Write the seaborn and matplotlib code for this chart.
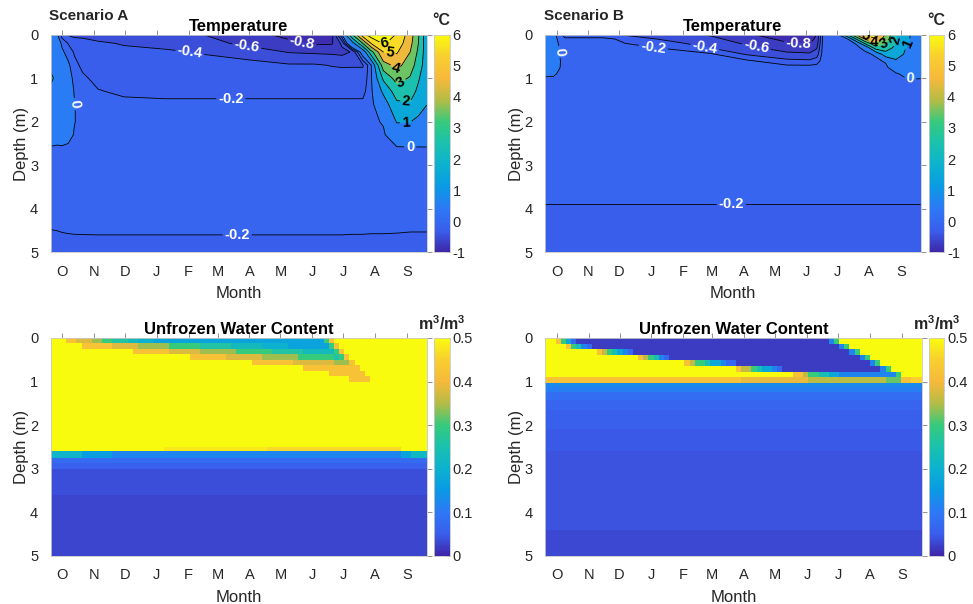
"""Ground temperature and unfrozen water content for two model scenarios."""

import matplotlib

matplotlib.use("Agg")

import matplotlib.pyplot as plt
import numpy as np
import seaborn as sns
from matplotlib.cm import ScalarMappable
from matplotlib.colors import Normalize

MONTH_LABELS = ["O", "N", "D", "J", "F", "M", "A", "M", "J", "J", "A", "S"]
MONTH_START_DAYS = [0, 31, 61, 92, 123, 151, 182, 212, 243, 273, 304, 335]  # days after 1 Oct
DAY_LIMITS = (-11, 354)
DAY_EDGES = np.arange(-11, 355, 5)  # 5-day model output steps

TEMP_FILL_LEVELS = [-1, -0.8, -0.6, -0.4, -0.2, 0, 1, 2, 3, 4, 5, 6, 7]
TEMP_COLD_LEVELS = [-0.8, -0.6, -0.4, -0.2, 0]
TEMP_WARM_LEVELS = [1, 2, 3, 4, 5, 6]

# Scenario A temperature (degC): one profile per day, top to bottom
TEMP_A_DEPTHS = [0, 0.2, 0.4, 0.7, 1.0, 1.3, 1.6, 2.0, 2.3, 2.6, 3.0, 4.4, 4.8, 5.0]
TEMP_A_DAYS = [-11, -5, 0, 6, 12, 20, 35, 60, 100, 134, 180, 220, 245, 262,
               272, 282, 292, 300, 312, 325, 338, 346, 354]
TEMP_A_PROFILES = [
    [0.5, 0.45, 0.4, 0.45, 1.5, 0.35, 0.3, 0.25, 0.15, -0.02, -0.1, -0.195, -0.22, -0.24],
    [0.05, 0.2, 0.3, 0.35, 0.4, 0.35, 0.3, 0.25, 0.15, -0.04, -0.1, -0.193, -0.22, -0.24],
    [-0.3, -0.05, 0.05, 0.2, 0.3, 0.3, 0.28, 0.22, 0.15, -0.03, -0.1, -0.19, -0.218, -0.24],
    [-0.42, -0.21, -0.1, 0.05, 0.15, 0.2, 0.2, 0.15, 0.1, -0.05, -0.1, -0.188, -0.216, -0.24],
    [-0.45, -0.3, -0.22, -0.15, -0.08, -0.02, 0.01, 0.01, -0.02, -0.08, -0.1, -0.187, -0.215, -0.24],
    [-0.42, -0.37, -0.3, -0.24, -0.17, -0.12, -0.09, -0.08, -0.08, -0.09, -0.1, -0.186, -0.215, -0.24],
    [-0.46, -0.38, -0.34, -0.29, -0.25, -0.19, -0.15, -0.12, -0.11, -0.1, -0.1, -0.185, -0.215, -0.24],
    [-0.5, -0.41, -0.37, -0.32, -0.28, -0.23, -0.16, -0.13, -0.12, -0.11, -0.1, -0.185, -0.215, -0.24],
    [-0.57, -0.46, -0.37, -0.32, -0.28, -0.24, -0.17, -0.13, -0.12, -0.11, -0.1, -0.185, -0.215, -0.24],
    [-0.59, -0.5, -0.41, -0.34, -0.29, -0.24, -0.17, -0.13, -0.12, -0.11, -0.1, -0.185, -0.215, -0.24],
    [-0.72, -0.66, -0.47, -0.35, -0.3, -0.24, -0.17, -0.13, -0.12, -0.11, -0.1, -0.185, -0.215, -0.24],
    [-0.86, -0.75, -0.61, -0.38, -0.31, -0.24, -0.17, -0.13, -0.12, -0.11, -0.1, -0.185, -0.215, -0.24],
    [-0.92, -0.83, -0.63, -0.38, -0.31, -0.24, -0.17, -0.13, -0.12, -0.11, -0.1, -0.185, -0.215, -0.24],
    [-0.88, -0.82, -0.64, -0.41, -0.31, -0.24, -0.17, -0.13, -0.12, -0.11, -0.1, -0.185, -0.215, -0.24],
    [0.02, -0.55, -0.66, -0.42, -0.31, -0.24, -0.17, -0.13, -0.12, -0.11, -0.1, -0.185, -0.215, -0.24],
    [3.0, 0.6, -0.58, -0.42, -0.3, -0.24, -0.17, -0.13, -0.12, -0.11, -0.1, -0.186, -0.216, -0.24],
    [5.6, 3.0, 0.2, -0.42, -0.3, -0.24, -0.17, -0.13, -0.12, -0.11, -0.1, -0.186, -0.216, -0.24],
    [6.5, 5.0, 2.6, -0.05, -0.1, -0.12, -0.13, -0.12, -0.11, -0.1, -0.1, -0.187, -0.217, -0.24],
    [6.8, 6.1, 5.0, 3.6, 2.2, 1.2, 0.5, 0.05, -0.08, -0.1, -0.1, -0.187, -0.217, -0.24],
    [5.9, 5.6, 5.1, 4.3, 3.4, 2.5, 1.8, 1.05, 0.5, -0.05, -0.1, -0.188, -0.218, -0.24],
    [4.5, 4.3, 4.0, 3.5, 2.9, 2.4, 1.9, 1.02, 0.5, -0.03, -0.1, -0.19, -0.22, -0.24],
    [3.1, 3.0, 2.8, 2.5, 2.1, 1.8, 1.4, 0.8, 0.4, -0.03, -0.1, -0.19, -0.22, -0.24],
    [1.3, 1.4, 1.45, 1.45, 1.35, 1.2, 1.02, 0.6, 0.3, -0.02, -0.1, -0.19, -0.22, -0.24],
]

# Scenario B temperature (degC)
TEMP_B_DEPTHS = [0, 0.1, 0.2, 0.3, 0.45, 0.6, 0.75, 0.9, 1.05, 1.3, 2.0, 3.8, 4.0, 5.0]
TEMP_B_DAYS = [-11, -3, 3, 8, 45, 94, 150, 185, 224, 246, 253, 259, 274,
               283, 291, 300, 310, 320, 330, 340, 348, 354]
TEMP_B_PROFILES = [
    [0.4, 0.4, 0.4, 0.4, 0.4, 0.35, 0.25, 0.05, -0.08, -0.1, -0.1, -0.19, -0.21, -0.25],
    [0.1, 0.15, 0.2, 0.25, 0.3, 0.3, 0.25, 0.05, -0.08, -0.1, -0.1, -0.19, -0.21, -0.25],
    [-0.15, -0.1, -0.06, -0.03, -0.01, 0.02, 0.01, -0.05, -0.09, -0.1, -0.1, -0.19, -0.21, -0.25],
    [-0.25, -0.18, -0.12, -0.1, -0.1, -0.1, -0.1, -0.1, -0.1, -0.1, -0.1, -0.19, -0.21, -0.25],
    [-0.35, -0.14, -0.12, -0.1, -0.1, -0.1, -0.1, -0.1, -0.1, -0.1, -0.1, -0.19, -0.21, -0.25],
    [-0.5, -0.39, -0.3, -0.19, -0.14, -0.1, -0.1, -0.1, -0.1, -0.1, -0.1, -0.19, -0.21, -0.25],
    [-0.62, -0.55, -0.48, -0.41, -0.17, -0.1, -0.1, -0.1, -0.1, -0.1, -0.1, -0.19, -0.21, -0.25],
    [-0.77, -0.7, -0.63, -0.55, -0.42, -0.17, -0.1, -0.1, -0.1, -0.1, -0.1, -0.19, -0.21, -0.25],
    [-0.92, -0.85, -0.78, -0.7, -0.55, -0.35, -0.12, -0.1, -0.1, -0.1, -0.1, -0.19, -0.21, -0.25],
    [-0.95, -0.88, -0.81, -0.72, -0.57, -0.37, -0.12, -0.1, -0.1, -0.1, -0.1, -0.19, -0.21, -0.25],
    [-0.79, -0.75, -0.7, -0.62, -0.5, -0.3, -0.12, -0.1, -0.1, -0.1, -0.1, -0.19, -0.21, -0.25],
    [-0.15, -0.15, -0.14, -0.13, -0.12, -0.11, -0.1, -0.1, -0.1, -0.1, -0.1, -0.19, -0.21, -0.25],
    [-0.02, -0.08, -0.1, -0.1, -0.1, -0.1, -0.1, -0.1, -0.1, -0.1, -0.1, -0.19, -0.21, -0.25],
    [2.05, -0.02, -0.1, -0.1, -0.1, -0.1, -0.1, -0.1, -0.1, -0.1, -0.1, -0.19, -0.21, -0.25],
    [4.05, 1.95, 0.02, -0.08, -0.1, -0.1, -0.1, -0.1, -0.1, -0.1, -0.1, -0.19, -0.21, -0.25],
    [5.3, 4.1, 2.2, 0.1, -0.08, -0.1, -0.1, -0.1, -0.1, -0.1, -0.1, -0.19, -0.21, -0.25],
    [5.5, 4.9, 3.8, 2.5, 0.05, -0.08, -0.1, -0.1, -0.1, -0.1, -0.1, -0.19, -0.21, -0.25],
    [3.9, 3.5, 3.0, 2.5, 1.6, 0.05, -0.08, -0.1, -0.1, -0.1, -0.1, -0.19, -0.21, -0.25],
    [2.1, 2.0, 1.9, 1.75, 1.4, 0.9, 0.3, -0.05, -0.1, -0.1, -0.1, -0.19, -0.21, -0.25],
    [1.15, 1.1, 1.05, 0.98, 0.85, 0.6, 0.35, 0.12, -0.05, -0.1, -0.1, -0.19, -0.21, -0.25],
    [0.85, 0.85, 0.8, 0.75, 0.65, 0.5, 0.3, 0.12, -0.03, -0.1, -0.1, -0.19, -0.21, -0.25],
    [0.6, 0.6, 0.58, 0.55, 0.48, 0.35, 0.2, 0.08, -0.03, -0.1, -0.1, -0.19, -0.21, -0.25],
]

# Scenario A unfrozen water content (m3/m3)
# near-surface layers: day freezing starts, days per freezing stage, day thaw arrives
WC_A_FRONT_EDGES = [0, 0.12, 0.25, 0.37, 0.5, 0.62, 0.75, 0.88, 1.0]
WC_A_FREEZE_START = [3, 18, 70, 125, 185, 235, 260, 278]
WC_A_STAGE_DAYS = [12, 29, 33, 35, 40, 60, 80, 100]
WC_A_LAST_STAGE = [7, 7, 7, 7, 7, 7, 7, 7]
WC_A_THAW_DAY = [266, 270, 275, 280, 284, 288, 293, 298]
WC_A_STAGES = [0.42, 0.38, 0.34, 0.3, 0.26, 0.23, 0.2, 0.17]
WC_A_THAW_RAMP = [0.3, 0.42]
# deeper layers: values change on the listed days
WC_A_LAYER_EDGES = [1.0, 2.5, 2.6, 2.75, 2.88, 3.02, 3.6, 5.0]
WC_A_LAYER_DAYS = [[-11], [-11, 100, 200, 330], [-11, 20, 50, 330, 340],
                   [-11], [-11], [-11], [-11]]
WC_A_LAYER_VALUES = [[0.5], [0.5, 0.48, 0.46, 0.5], [0.21, 0.16, 0.12, 0.17, 0.22],
                     [0.075], [0.055], [0.036], [0.028]]

# Scenario B unfrozen water content (m3/m3)
WC_B_FRONT_EDGES = [0, 0.13, 0.26, 0.39, 0.51, 0.64, 0.77, 0.89]
WC_B_FREEZE_START = [-1, 9, 39, 79, 122, 173, 227]
WC_B_STAGE_DAYS = [2.6, 3.3, 4.8, 4.5, 7.2, 6.8, 9.6]
WC_B_LAST_STAGE = [7, 7, 7, 7, 7, 7, 5]
WC_B_THAW_DAY = [276, 286, 296, 305, 314, 323, 333]
WC_B_STAGES = [0.42, 0.36, 0.3, 0.24, 0.18, 0.12, 0.07, 0.02]
WC_B_THAW_RAMP = [0.12, 0.3]
WC_B_LAYER_EDGES = [0.89, 1.03, 1.13, 1.25, 1.42, 1.65, 2.1, 2.6, 4.4, 5.0]
WC_B_LAYER_DAYS = [[-11, 180, 246, 320, 335, 345], [-11], [-11], [-11], [-11],
                   [-11], [-11], [-11], [-11]]
WC_B_LAYER_VALUES = [[0.42, 0.39, 0.355, 0.32, 0.42, 0.45], [0.125], [0.11], [0.08],
                     [0.064], [0.053], [0.046], [0.04], [0.03]]

PARULA_ANCHORS = ["#3e26a8", "#3a5fed", "#2d78f5", "#0a9ae4", "#0cb1cf", "#1ac1ad",
                  "#36ca7d", "#b4bc45", "#f6b93b", "#f8ce30", "#f9fb0e"]
TEXT_COLOR = "#262626"
FRAME_COLOR = "#c8c8c8"
TICK_COLOR = "#808080"


def water_content_grid(front_edges, freeze_start, stage_days, last_stage, thaw_day,
                       stages, thaw_ramp, layer_edges, layer_days, layer_values):
    centers = (DAY_EDGES[:-1] + DAY_EDGES[1:]) / 2
    stages = np.asarray(stages)
    rows = []
    for start, step, last, thaw in zip(freeze_start, stage_days, last_stage, thaw_day):
        row = np.full(centers.size, 0.5)
        frozen = centers >= start
        stage = np.minimum(np.floor((centers - start) / step).astype(int), last)
        row[frozen] = stages[stage[frozen]]
        for k, value in enumerate(thaw_ramp):
            lo = thaw - 5 * (len(thaw_ramp) - k)
            sel = (centers >= lo) & (centers < lo + 5)
            row[sel] = np.maximum(row[sel], value)
        row[centers >= thaw] = 0.5
        rows.append(row)
    for days, values in zip(layer_days, layer_values):
        idx = np.searchsorted(days, centers, side="right") - 1
        rows.append(np.asarray(values)[idx])
    edges = list(front_edges) + list(layer_edges[1:])
    return np.array(edges), np.vstack(rows)


def style_axes(ax, title):
    ax.set_xlim(*DAY_LIMITS)
    ax.set_ylim(5, 0)
    ax.set_xticks(MONTH_START_DAYS, MONTH_LABELS)
    ax.set_yticks(range(6))
    ax.tick_params(direction="out", length=3.5, width=0.6, color=TICK_COLOR,
                   labelsize=10.5, labelcolor=TEXT_COLOR, pad=5.5,
                   top=True, right=True)
    ax.set_xlabel("Month", fontsize=12, color=TEXT_COLOR, labelpad=5.5)
    ax.set_ylabel("Depth (m)", fontsize=12, color=TEXT_COLOR, labelpad=0.5)
    ax.set_title(title, fontsize=12, fontweight="bold", color="black", pad=3)
    for spine in ax.spines.values():
        spine.set_color(FRAME_COLOR)
        spine.set_linewidth(0.6)


def add_colorbar(fig, cax, cmap, norm, ticks, unit, unit_xy):
    cbar = fig.colorbar(ScalarMappable(norm=norm, cmap=cmap), cax=cax, ticks=ticks)
    cbar.outline.set_edgecolor(FRAME_COLOR)
    cbar.outline.set_linewidth(0.6)
    cax.tick_params(direction="in", length=3, width=0.6, color=TICK_COLOR,
                    labelsize=10.5, labelcolor=TEXT_COLOR, pad=2)
    fig.text(*unit_xy, unit, fontsize=11.5, fontweight="bold", ha="center", va="center")


def label_lines(ax, days, depths, values, levels, spots, color):
    lines = ax.contour(days, depths, values, levels=levels, colors="black",
                       linewidths=0.6, linestyles="solid")
    texts = ax.clabel(lines, manual=spots, inline=True, inline_spacing=2,
                      fmt=lambda v: f"{v:g}", fontsize=10.5, colors=color)
    for text in texts:
        text.set_fontweight("bold")


def draw_temperature(ax, days, depths, profiles, cmap, norm, cold_spots, warm_spots):
    values = np.array(profiles).T
    ax.contourf(days, depths, values, levels=TEMP_FILL_LEVELS, cmap=cmap, norm=norm)
    label_lines(ax, days, depths, values, TEMP_COLD_LEVELS, cold_spots, "white")
    label_lines(ax, days, depths, values, TEMP_WARM_LEVELS, warm_spots, "black")


def draw_water_content(ax, edges, grid, cmap):
    ax.pcolormesh(DAY_EDGES, edges, grid, cmap=cmap, vmin=0, vmax=0.5,
                  shading="flat", linewidth=0, antialiased=False)


def main():
    sns.set_style("white")
    plt.rcParams["font.family"] = ["Liberation Sans", "DejaVu Sans"]
    plt.rcParams["axes.unicode_minus"] = False
    plt.rcParams["mathtext.fontset"] = "custom"
    plt.rcParams["mathtext.bf"] = "Liberation Sans:bold"
    plt.rcParams["mathtext.default"] = "bf"

    parula = sns.blend_palette(PARULA_ANCHORS, n_colors=256, as_cmap=True)
    temp_norm = Normalize(vmin=-1, vmax=6)
    wc_norm = Normalize(vmin=0, vmax=0.5)

    fig = plt.figure(figsize=(9.73, 6.04), dpi=100)
    ax_ta = fig.add_axes([0.0521, 0.5823, 0.3864, 0.3603])
    ax_tb = fig.add_axes([0.5604, 0.5823, 0.3858, 0.3603])
    ax_wa = fig.add_axes([0.0521, 0.0800, 0.3864, 0.3604])
    ax_wb = fig.add_axes([0.5604, 0.0800, 0.3868, 0.3604])
    cax_ta = fig.add_axes([0.4460, 0.5823, 0.0164, 0.3603])
    cax_tb = fig.add_axes([0.9548, 0.5823, 0.0157, 0.3603])
    cax_wa = fig.add_axes([0.4460, 0.0800, 0.0164, 0.3604])
    cax_wb = fig.add_axes([0.9548, 0.0800, 0.0157, 0.3604])

    for ax in (ax_ta, ax_tb, ax_wa, ax_wb):
        ax.set_xlim(*DAY_LIMITS)
        ax.set_ylim(5, 0)

    draw_temperature(
        ax_ta, TEMP_A_DAYS, TEMP_A_DEPTHS, TEMP_A_PROFILES, parula, temp_norm,
        cold_spots=[(124, 0.43), (179, 0.34), (232, 0.28), (164, 1.5), (170, 4.6),
                    (12, 1.6), (338, 2.57)],
        warm_spots=[(313, 0.16), (318, 0.43), (324, 0.77), (329, 1.12), (334, 1.58),
                    (334, 2.07)],
    )
    draw_temperature(
        ax_tb, TEMP_B_DAYS, TEMP_B_DEPTHS, TEMP_B_PROFILES, parula, temp_norm,
        cold_spots=[(2, 0.4), (94, 0.3), (144, 0.31), (194, 0.3), (235, 0.22),
                    (170, 3.9), (344, 0.97)],
        warm_spots=[(300, 0.05), (309, 0.16), (318, 0.2), (328, 0.12), (340, 0.2)],
    )

    edges_a, grid_a = water_content_grid(
        WC_A_FRONT_EDGES, WC_A_FREEZE_START, WC_A_STAGE_DAYS, WC_A_LAST_STAGE,
        WC_A_THAW_DAY, WC_A_STAGES, WC_A_THAW_RAMP, WC_A_LAYER_EDGES,
        WC_A_LAYER_DAYS, WC_A_LAYER_VALUES)
    edges_b, grid_b = water_content_grid(
        WC_B_FRONT_EDGES, WC_B_FREEZE_START, WC_B_STAGE_DAYS, WC_B_LAST_STAGE,
        WC_B_THAW_DAY, WC_B_STAGES, WC_B_THAW_RAMP, WC_B_LAYER_EDGES,
        WC_B_LAYER_DAYS, WC_B_LAYER_VALUES)
    draw_water_content(ax_wa, edges_a, grid_a, parula)
    draw_water_content(ax_wb, edges_b, grid_b, parula)

    for ax in (ax_ta, ax_tb):
        style_axes(ax, "Temperature")
    for ax in (ax_wa, ax_wb):
        style_axes(ax, "Unfrozen Water Content")

    add_colorbar(fig, cax_ta, parula, temp_norm, range(-1, 7), "°C", (0.4538, 0.9657))
    add_colorbar(fig, cax_tb, parula, temp_norm, range(-1, 7), "°C", (0.9625, 0.9657))
    wc_ticks = [0, 0.1, 0.2, 0.3, 0.4, 0.5]
    wc_unit = r"m$^{3}$/m$^{3}$"
    add_colorbar(fig, cax_wa, parula, wc_norm, wc_ticks, wc_unit, (0.4540, 0.4640))
    add_colorbar(fig, cax_wb, parula, wc_norm, wc_ticks, wc_unit, (0.9627, 0.4640))
    for cax in (cax_wa, cax_wb):
        cax.set_yticklabels(["0", "0.1", "0.2", "0.3", "0.4", "0.5"])

    fig.text(0.0507, 0.9735, "Scenario A", fontsize=11, fontweight="bold",
             ha="left", va="center")
    fig.text(0.5594, 0.9735, "Scenario B", fontsize=11, fontweight="bold",
             ha="left", va="center")

    fig.savefig("out.png", dpi=100)
    plt.close(fig)


if __name__ == "__main__":
    main()
